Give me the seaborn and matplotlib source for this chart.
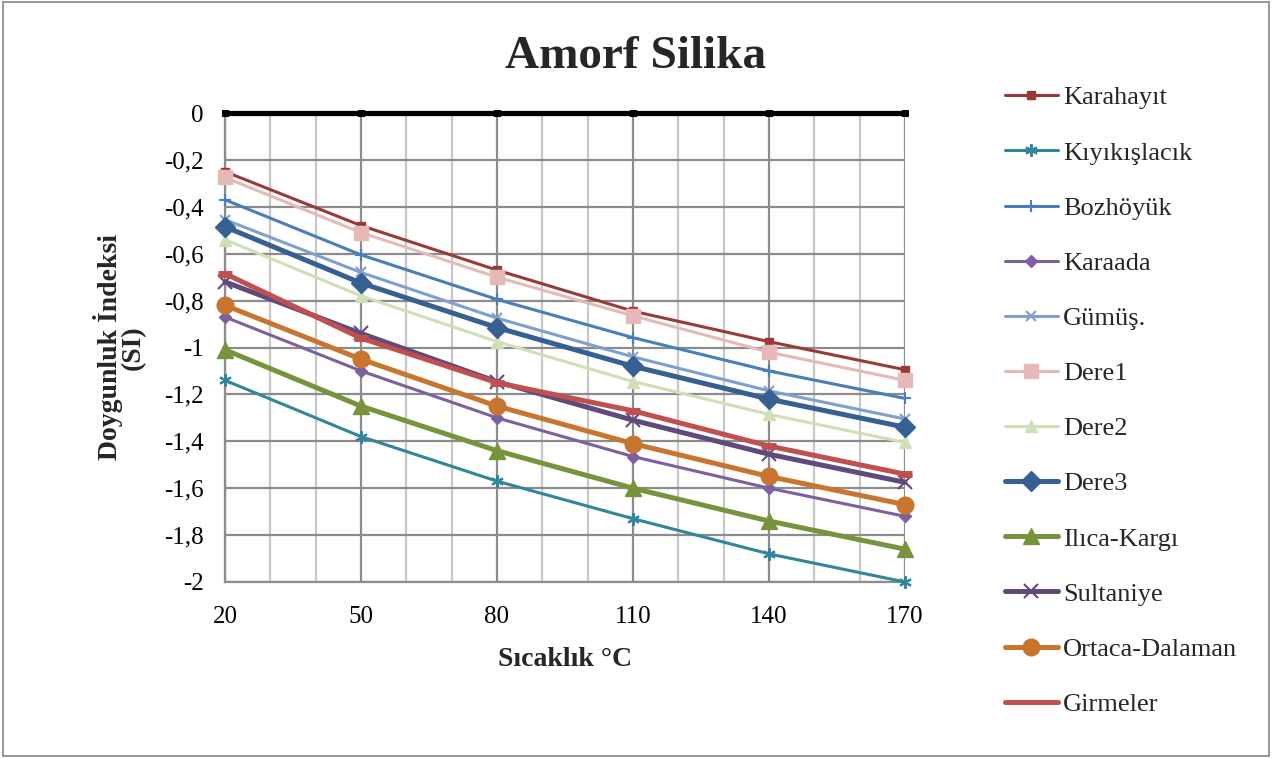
import matplotlib
matplotlib.use("Agg")
import matplotlib.pyplot as plt
import seaborn as sns
from matplotlib.patches import Rectangle
from matplotlib.ticker import MultipleLocator, FuncFormatter

sns.set_theme(style="white")
plt.rcParams['font.family'] = ['Liberation Serif', 'DejaVu Serif']

temps = [20, 50, 80, 110, 140, 170]
zero_line = [0, 0, 0, 0, 0, 0]

karahayit = [-0.25, -0.48, -0.67, -0.845, -0.975, -1.095]
kiyikislacik = [-1.14, -1.38, -1.57, -1.73, -1.88, -2.0]
bozhoyuk = [-0.37, -0.605, -0.795, -0.958, -1.10, -1.217]
karaada = [-0.87, -1.10, -1.30, -1.465, -1.60, -1.72]
gumus = [-0.455, -0.68, -0.875, -1.04, -1.185, -1.305]
dere1 = [-0.275, -0.51, -0.70, -0.865, -1.02, -1.14]
dere2 = [-0.54, -0.78, -0.975, -1.145, -1.285, -1.405]
dere3 = [-0.485, -0.725, -0.915, -1.08, -1.22, -1.34]
ilica = [-1.01, -1.25, -1.44, -1.60, -1.74, -1.86]
sultaniye = [-0.72, -0.94, -1.146, -1.31, -1.455, -1.575]
ortaca = [-0.82, -1.05, -1.25, -1.41, -1.55, -1.67]
girmeler = [-0.685, -0.96, -1.15, -1.27, -1.42, -1.54]

labels = ["Karahayıt", "Kıyıkışlacık", "Bozhöyük", "Karaada", "Gümüş.", "Dere1",
          "Dere2", "Dere3", "Ilıca-Kargı", "Sultaniye", "Ortaca-Dalaman", "Girmeler"]
series = [karahayit, kiyikislacik, bozhoyuk, karaada, gumus, dere1,
          dere2, dere3, ilica, sultaniye, ortaca, girmeler]

styles = [
    dict(color="#9A3A37", marker="s", ms=5.5, lw=2.2, mew=1),
    dict(color="#31859C", marker=(6, 2, 0), ms=9, lw=2.2, mew=1.5),
    dict(color="#4A7EBB", marker="+", ms=9, lw=2.2, mew=1.5),
    dict(color="#7D60A0", marker="D", ms=6.5, lw=2.2, mew=1),
    dict(color="#7F9FCF", marker="x", ms=7.5, lw=2.2, mew=1.5),
    dict(color="#E6B9B8", marker="s", ms=9.5, lw=2.2, mew=1),
    dict(color="#D0DFB5", marker="^", ms=8.5, lw=2.2, mew=1),
    dict(color="#376092", marker="D", ms=10, lw=3.6, mew=1),
    dict(color="#77933C", marker="^", ms=11.5, lw=3.6, mew=1),
    dict(color="#604A7B", marker="x", ms=10, lw=3.6, mew=1.5),
    dict(color="#C8762F", marker="o", ms=12, lw=3.6, mew=1),
    dict(color="#C0504D", marker="_", ms=10, lw=3.6, mew=5),
]

fig = plt.figure(figsize=(12.72, 7.58), dpi=100)
fig.patches.append(Rectangle((0.002, 0.002), 0.996, 0.996, transform=fig.transFigure,
                             fill=False, edgecolor="#868686", linewidth=1.2))
ax = fig.add_axes([225/1272, 1 - 582/758, (905-225)/1272, (582-113)/758])

ax.set_xlim(20, 170)
ax.set_ylim(-2, 0)
ax.xaxis.set_major_locator(MultipleLocator(30))
ax.xaxis.set_minor_locator(MultipleLocator(10))
ax.yaxis.set_major_locator(MultipleLocator(0.2))
ax.grid(which="major", axis="both", color="#8C8C8C", linewidth=1.6)
ax.grid(which="minor", axis="x", color="#C8C8C8", linewidth=1.6)
ax.set_axisbelow(True)
for s in ["top", "right"]:
    ax.spines[s].set_visible(False)
for s in ["left", "bottom"]:
    ax.spines[s].set_color("#8C8C8C")
    ax.spines[s].set_linewidth(1.6)

# zero reference series
sns.lineplot(x=temps, y=zero_line, ax=ax, color="black", linewidth=3.8, marker="s",
             markersize=5, markeredgecolor="black", legend=False, clip_on=False, zorder=3)

for lab, vals, st in zip(labels, series, styles):
    sns.lineplot(x=temps, y=vals, ax=ax, color=st["color"], linewidth=st["lw"],
                 marker=st["marker"], markersize=st["ms"], markeredgewidth=st["mew"],
                 markeredgecolor=st["color"], markerfacecolor=st["color"],
                 label=lab, clip_on=False, zorder=4)

ax.xaxis.set_ticks(temps)
ax.yaxis.set_major_formatter(FuncFormatter(lambda v, p: ("%g" % round(v, 1)).replace(".", ",")))
ax.tick_params(axis="x", which="both", length=0, labelsize=18, colors="black", pad=17)
ax.tick_params(axis="y", which="major", length=4.3, width=1.6, color="#8C8C8C",
               labelsize=18, labelcolor="black", pad=11)
ax.tick_params(axis="y", which="minor", length=0)

ax.set_xlabel("Sıcaklık °C", fontsize=20, fontweight="bold", labelpad=14)
ax.set_ylabel("Doygunluk İndeksi\n(SI)", fontsize=20, fontweight="bold", labelpad=13,
              linespacing=0.9)
fig.text(636/1272, 1 - 57/758, "Amorf Silika", ha="center", va="center",
         fontsize=34, fontweight="bold")

handles, labs = ax.get_legend_handles_labels()
ax.get_legend().remove()
leg = fig.legend(handles, labs, loc="upper left", bbox_to_anchor=(1005/1272, 1 - 86/758),
                 frameon=False, fontsize=19, labelspacing=1.2, handlelength=2.0,
                 handletextpad=0.19, borderaxespad=0, borderpad=0)
for ln in leg.get_lines():
    if ln.get_marker() == "_":
        ln.set_marker("None")

fig.savefig("out.png", dpi=100)
